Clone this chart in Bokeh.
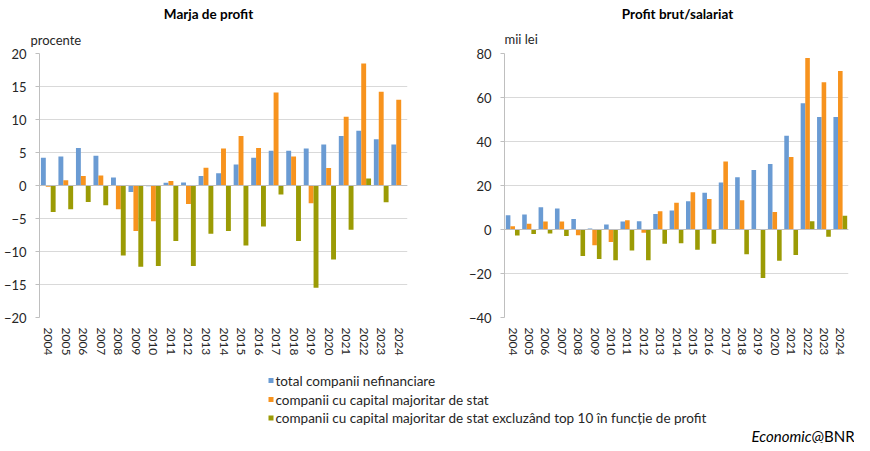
from bokeh.plotting import figure
from bokeh.models import (FactorRange, Range1d, FixedTicker, Span, ColumnDataSource)
from bokeh.core.properties import value
from bokeh.transform import dodge
from bokeh.layouts import column, row
from bokeh.embed import file_html
from bokeh.resources import INLINE

years = [str(y) for y in range(2004, 2025)]

# Marja de profit (procente)
margin_total = [4.2, 4.4, 5.7, 4.5, 1.2, -1.0, -0.1, 0.4, 0.45, 1.45, 1.85,
                3.2, 4.2, 5.25, 5.25, 5.6, 6.2, 7.5, 8.3, 7.0, 6.2]
margin_state = [-0.2, 0.8, 1.45, 1.5, -3.6, -6.9, -5.4, 0.7, -2.8, 2.7, 5.6,
                7.5, 5.7, 14.1, 4.4, -2.7, 2.65, 10.4, 18.5, 14.2, 13.0]
margin_state_ex = [-4.0, -3.6, -2.5, -3.0, -10.6, -12.3, -12.2, -8.4, -12.2,
                   -7.3, -6.9, -9.1, -6.2, -1.35, -8.4, -15.5, -11.2, -6.7,
                   1.05, -2.55, 0.0]

# Profit brut/salariat (mii lei)
profit_total = [6.5, 6.8, 10.1, 9.6, 4.8, 0.45, 2.3, 3.6, 3.8, 7.1, 8.6,
                12.8, 16.7, 21.4, 23.8, 27.0, 29.8, 42.6, 57.4, 51.1, 51.1]
profit_state = [1.5, 2.6, 3.6, 3.6, -2.6, -7.2, -5.7, 4.2, -1.5, 8.3, 12.2,
                16.9, 13.9, 30.9, 13.3, -0.2, 8.0, 33.0, 78.0, 66.9, 72.0]
profit_state_ex = [-2.7, -2.0, -1.8, -2.9, -12.0, -13.4, -14.0, -9.6, -14.0,
                   -6.5, -6.2, -9.2, -6.5, -0.2, -11.3, -22.0, -14.2, -11.6,
                   3.8, -3.3, 6.2]

left_ticks = [-20, -15, -10, -5, 0, 5, 10, 15, 20]
right_ticks = [-40, -20, 0, 20, 40, 60, 80]

chart_titles = ["Marja de profit", "Profit brut/salariat"]
chart_units = ["procente", "mii lei"]
series_names = ["total companii nefinanciare",
                "companii cu capital majoritar de stat",
                "companii cu capital majoritar de stat excluzând top 10 în funcție de profit"]
colors = ["#6A9BD3", "#F7931E", "#9B9B05"]

FONT = "Lato"
TXT = "#262626"
GRID = "#d9d9d9"
AX = "#bfbfbf"
W = 854


def text_panel(height):
    p = figure(width=W, height=height, x_range=Range1d(0, W), y_range=Range1d(0, height),
               x_axis_type=None, y_axis_type=None, output_backend="svg",
               toolbar_location=None, min_border=0)
    p.outline_line_color = None
    p.xgrid.visible = False
    p.ygrid.visible = False
    return p


def make_chart(vals, yr, ticks, width, height, bl, br, bt, bb):
    src = ColumnDataSource(dict(year=years, a=vals[0], b=vals[1], c=vals[2]))
    p = figure(x_range=FactorRange(*years), y_range=Range1d(*yr),
               width=width, height=height, output_backend="svg",
               toolbar_location=None, min_border_left=bl, min_border_right=br,
               min_border_top=bt, min_border_bottom=bb)
    p.outline_line_color = None
    bw = 0.28
    for key, off, col in zip(["a", "b", "c"], [-bw, 0, bw], colors):
        p.vbar(x=dodge("year", off, range=p.x_range), top=key, width=bw,
               source=src, fill_color=col, line_color=None)
    p.add_layout(Span(location=0, dimension="width", line_color=AX, line_width=1))

    p.yaxis.ticker = FixedTicker(ticks=ticks)
    p.ygrid.ticker = FixedTicker(ticks=ticks)
    p.ygrid.grid_line_color = GRID
    p.xgrid.grid_line_color = None
    p.yaxis.axis_line_color = AX
    p.yaxis.major_tick_line_color = AX
    p.yaxis.major_tick_out = 4
    p.yaxis.major_tick_in = 0
    p.yaxis.minor_tick_line_color = None
    p.yaxis.major_label_standoff = 9
    p.yaxis.major_label_text_font = FONT
    p.yaxis.major_label_text_font_size = "13px"
    p.yaxis.major_label_text_color = TXT

    p.xaxis.axis_line_color = None
    p.xaxis.major_tick_line_color = None
    p.xaxis.major_tick_out = 0
    p.xaxis.major_label_orientation = "vertical"
    p.xaxis.major_label_standoff = 10
    p.xaxis.major_label_text_font = FONT
    p.xaxis.major_label_text_font_size = "12px"
    p.xaxis.major_label_text_color = TXT
    return p


# top strip: titles and units
top = text_panel(47)
top.text(x=[208, 677], y=[34, 34], text=chart_titles, text_font=value(FONT),
         text_font_size="13.5px", text_font_style="bold", text_color="black",
         text_align="center", text_baseline="middle")
top.text(x=[30, 504], y=[8, 8.5], text=chart_units, text_font=value(FONT),
         text_font_size="13px", text_color=TXT,
         text_align="left", text_baseline="middle")

p1 = make_chart([margin_total, margin_state, margin_state_ex], (-20, 20),
                left_ticks, 430, 313, 29, 23, 6, 42)
p2 = make_chart([profit_total, profit_state, profit_state_ex], (-40, 80),
                right_ticks, 424, 313, 74, 6, 4, 43)

# legend + footer panel
bot = text_panel(83)
leg_y = [63, 44, 25.5]
bot.rect(x=[270.5] * 3, y=leg_y, width=5, height=5, fill_color=colors, line_color=None)
bot.text(x=[275] * 3, y=leg_y, text=series_names, text_font=value(FONT),
         text_font_size="13.5px", text_color=TXT, text_align="left",
         text_baseline="middle")
bot.text(x=[811], y=[8], text=["Economic"], text_font=value(FONT),
         text_font_style="italic", text_font_size="15px", text_color="black",
         text_align="right", text_baseline="middle")
bot.text(x=[811], y=[8], text=["@BNR"], text_font=value(FONT),
         text_font_size="15px", text_color="black", text_align="left",
         text_baseline="middle")

layout = column(top, row(p1, p2), bot)
open("out.html", "w").write(file_html(layout, INLINE))
